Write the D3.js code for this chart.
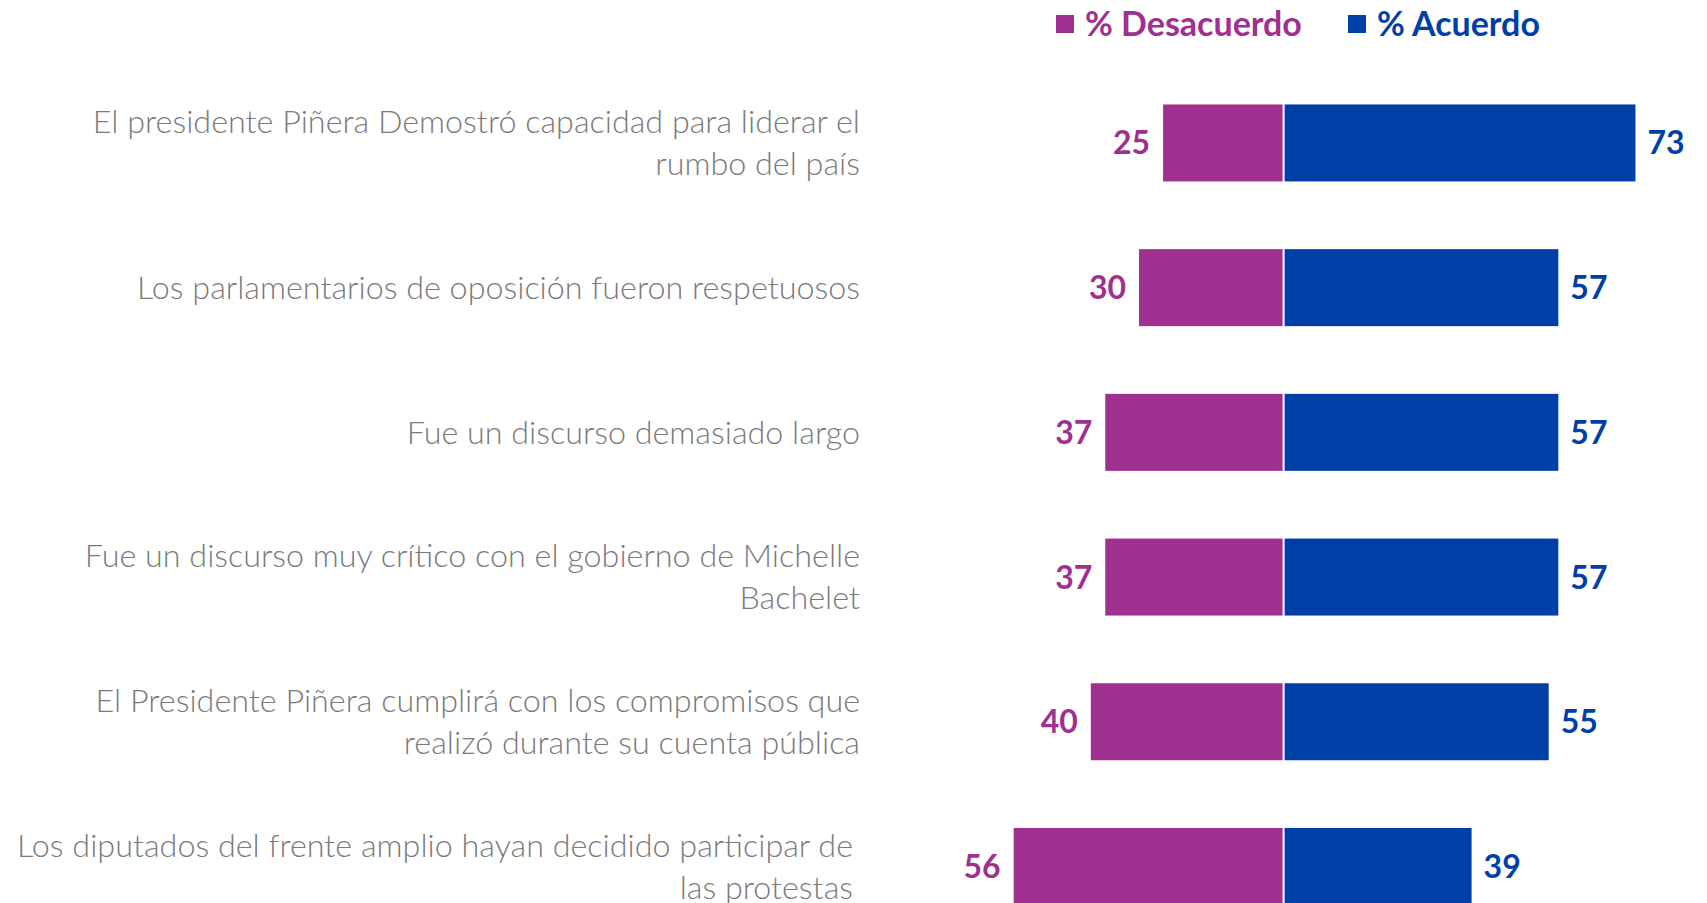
<!DOCTYPE html>
<html>
<head>
<meta charset="utf-8">
<script src="https://cdn.jsdelivr.net/npm/d3@7"></script>
<style>
  html, body { margin: 0; padding: 0; background: #fff; }
  svg { display: block; }
</style>
</head>
<body>
<div id="chart"></div>
<script>
// Datos del gráfico
const categories = [
  'El presidente Piñera Demostró capacidad para liderar el\nrumbo del país',
  'Los parlamentarios de oposición fueron respetuosos',
  'Fue un discurso demasiado largo',
  'Fue un discurso muy crítico con el gobierno de Michelle\nBachelet',
  'El Presidente Piñera cumplirá con los compromisos que\nrealizó durante su cuenta pública',
  'Los diputados del frente amplio hayan decidido participar de\nlas protestas'
];
const desacuerdo = [25, 30, 37, 37, 40, 56];
const acuerdo = [73, 57, 57, 57, 55, 39];
const seriesNames = ['% Desacuerdo', '% Acuerdo'];

const width = 1707;
const height = 903;
const purple = '#A0308F';
const blue = '#003FA8';
const labelGray = '#7A7A7A';

const svg = d3.select('#chart')
  .append('svg')
  .attr('width', width)
  .attr('height', height);

// Escalas
const center = 1283.6;
const x = d3.scaleLinear()
  .domain([-100, 100])
  .range([center - 482, center + 482]);

const y = d3.scaleBand()
  .domain(categories)
  .range([70.6, 938.8])
  .paddingInner(0.468)
  .paddingOuter(0.234);

const rows = categories.map((c, i) => ({ cat: c, des: desacuerdo[i], acu: acuerdo[i] }));

// Barras desacuerdo (izquierda)
svg.append('g')
  .selectAll('rect')
  .data(rows)
  .enter()
  .append('rect')
  .attr('x', d => x(-d.des))
  .attr('y', d => y(d.cat))
  .attr('width', d => x(0) - x(-d.des) - 1)
  .attr('height', y.bandwidth())
  .attr('fill', purple);

// Barras acuerdo (derecha)
svg.append('g')
  .selectAll('rect')
  .data(rows)
  .enter()
  .append('rect')
  .attr('x', x(0) + 1)
  .attr('y', d => y(d.cat))
  .attr('width', d => x(d.acu) - x(0) - 1)
  .attr('height', y.bandwidth())
  .attr('fill', blue);

// Etiquetas de valores
const valueFont = 'Lato, "Open Sans", sans-serif';
svg.append('g')
  .selectAll('text')
  .data(rows)
  .enter()
  .append('text')
  .attr('x', d => x(-d.des) - 13)
  .attr('y', d => y(d.cat) + y.bandwidth() / 2)
  .attr('dy', '0.36em')
  .attr('text-anchor', 'end')
  .style('font-family', valueFont)
  .style('font-weight', 700)
  .style('font-size', '32px')
  .attr('fill', purple)
  .text(d => d.des);

svg.append('g')
  .selectAll('text')
  .data(rows)
  .enter()
  .append('text')
  .attr('x', d => x(d.acu) + 12)
  .attr('y', d => y(d.cat) + y.bandwidth() / 2)
  .attr('dy', '0.36em')
  .attr('text-anchor', 'start')
  .style('font-family', valueFont)
  .style('font-weight', 700)
  .style('font-size', '32px')
  .attr('fill', blue)
  .text(d => d.acu);

// Etiquetas de categorías (texto a la derecha, con saltos de línea)
const lineHeight = 42;
const catLabels = svg.append('g')
  .selectAll('text')
  .data(categories)
  .enter()
  .append('text')
  .attr('text-anchor', 'end')
  .style('font-family', 'Lato, "Open Sans", sans-serif')
  .style('font-weight', 300)
  .style('font-size', '32.3px')
  .attr('fill', labelGray);

catLabels.each(function(c, k) {
  const lines = c.split('\n');
  const cy = y(c) + y.bandwidth() / 2;
  const top = cy - (lines.length - 1) * lineHeight / 2;
  const right = k === categories.length - 1 ? 853 : 860;
  d3.select(this).selectAll('tspan')
    .data(lines)
    .enter()
    .append('tspan')
    .attr('x', right)
    .attr('y', (l, i) => top + i * lineHeight)
    .attr('dy', '0.35em')
    .text(l => l);
});

// Leyenda
const legendItems = [
  { name: seriesNames[0], color: purple, x: 1056 },
  { name: seriesNames[1], color: blue, x: 1348 }
];
const legend = svg.append('g')
  .selectAll('g')
  .data(legendItems)
  .enter()
  .append('g')
  .attr('transform', d => `translate(${d.x},24)`);

legend.append('rect')
  .attr('x', 0)
  .attr('y', -9)
  .attr('width', 18)
  .attr('height', 18)
  .attr('fill', d => d.color);

legend.append('text')
  .attr('x', 29)
  .attr('dy', '0.36em')
  .style('font-family', valueFont)
  .style('font-weight', 700)
  .style('font-size', '34px')
  .attr('fill', d => d.color)
  .text(d => d.name);
</script>
</body>
</html>
